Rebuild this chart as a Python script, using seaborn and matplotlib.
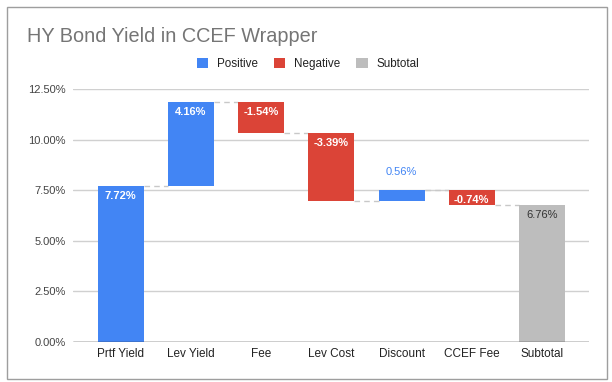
import matplotlib
matplotlib.use("Agg")
import matplotlib.pyplot as plt
from matplotlib.patches import Patch, Rectangle
import numpy as np
import pandas as pd
import seaborn as sns

# 数据
steps = ["Prtf Yield", "Lev Yield", "Fee", "Lev Cost", "Discount", "CCEF Fee", "Subtotal"]
changes = [7.72, 4.16, -1.54, -3.39, 0.56, -0.74, 6.76]
kinds = ["Positive", "Positive", "Negative", "Negative", "Positive", "Negative", "Subtotal"]

COLORS = {"Positive": "#4285F4", "Negative": "#DB4437", "Subtotal": "#BDBDBD"}
BAR_W = 0.655

sns.set_theme(style="whitegrid")
plt.rcParams["font.family"] = ["Liberation Sans", "DejaVu Sans"]


def build_frame():
    df = pd.DataFrame({"step": steps, "change": changes, "kind": kinds})
    bottoms, heights, ends = [], [], []
    total = 0.0
    for c, k in zip(df["change"], df["kind"]):
        if k == "Subtotal":
            bottoms.append(0.0)
            heights.append(c)
            total = c
        else:
            bottoms.append(min(total, total + c))
            heights.append(abs(c))
            total += c
        ends.append(total)
    df["bottom"] = bottoms
    df["height"] = heights
    df["end"] = ends
    df["top"] = df["bottom"] + df["height"]
    return df


def main():
    df = build_frame()
    fig = plt.figure(figsize=(6.12, 3.82), dpi=100)
    ax = fig.add_axes([73 / 612, 40 / 382, 516 / 612, 253 / 382])

    # 每种类型单独画，保证 bottom 对齐
    for kind in ["Positive", "Negative", "Subtotal"]:
        sub = df[df["kind"] == kind]
        sns.barplot(
            data=sub, x="step", y="height", order=steps,
            color=COLORS[kind], width=BAR_W, errorbar=None,
            bottom=sub["bottom"].values, saturation=1, ax=ax,
            linewidth=0, zorder=2,
        )

    # 连接虚线
    for i in range(len(df) - 1):
        lvl = df["end"].iloc[i]
        ax.hlines(lvl, i + BAR_W / 2, i + 1 - BAR_W / 2, colors="#c8c8c8",
                  linestyles=(0, (4, 3)), linewidth=1, zorder=1)

    # 数据标签
    for i, row in df.iterrows():
        txt = f"{row['change']:.2f}%"
        if row["height"] < 0.6:
            ax.annotate(txt, (i, row["top"]), xytext=(0, 18), textcoords="offset pixels",
                        ha="center", va="center", fontsize=8, color=COLORS[row["kind"]])
        else:
            col = "#333333" if row["kind"] == "Subtotal" else "white"
            weight = "normal" if row["kind"] == "Subtotal" else "bold"
            ax.annotate(txt, (i, row["top"]), xytext=(0, -10), textcoords="offset pixels",
                        ha="center", va="center", fontsize=8, color=col, fontweight=weight)

    ax.set_xlim(-0.68, 6.67)
    ax.set_ylim(0, 12.5)
    yt = np.arange(0, 12.51, 2.5)
    ax.set_yticks(yt)
    ax.set_yticklabels([f"{v:.2f}%" for v in yt])
    ax.set_xlabel("")
    ax.set_ylabel("")
    ax.grid(axis="x", visible=False)
    ax.grid(axis="y", color="#d0d0d0", linewidth=1)
    ax.set_axisbelow(True)
    for s in ax.spines.values():
        s.set_visible(False)
    ax.axhline(0, color="#333333", linewidth=1, zorder=3)
    ax.tick_params(axis="y", length=0, pad=5, labelsize=8, labelcolor="#444444")
    ax.tick_params(axis="x", length=0, pad=4, labelsize=8.5, labelcolor="#222222")

    fig.text(27 / 612, 1 - 36 / 382, "HY Bond Yield in CCEF Wrapper", fontsize=14.3,
             color="#757575", ha="left", va="center")

    handles = [Patch(facecolor=COLORS[k], edgecolor="none", label=k)
               for k in ["Positive", "Negative", "Subtotal"]]
    fig.legend(handles=handles, loc="center", bbox_to_anchor=(308 / 612, 1 - 64 / 382),
               ncol=3, frameon=False, fontsize=8.4, handlelength=1.0, handleheight=1.0,
               handletextpad=0.75, columnspacing=1.35, labelcolor="#222222")

    fig.patches.append(Rectangle((7 / 612, 3 / 382), 600 / 612, 372 / 382,
                                 transform=fig.transFigure, fill=False,
                                 edgecolor="#9e9e9e", linewidth=1))

    fig.savefig("out.png", dpi=100)
    plt.close(fig)


if __name__ == "__main__":
    main()
